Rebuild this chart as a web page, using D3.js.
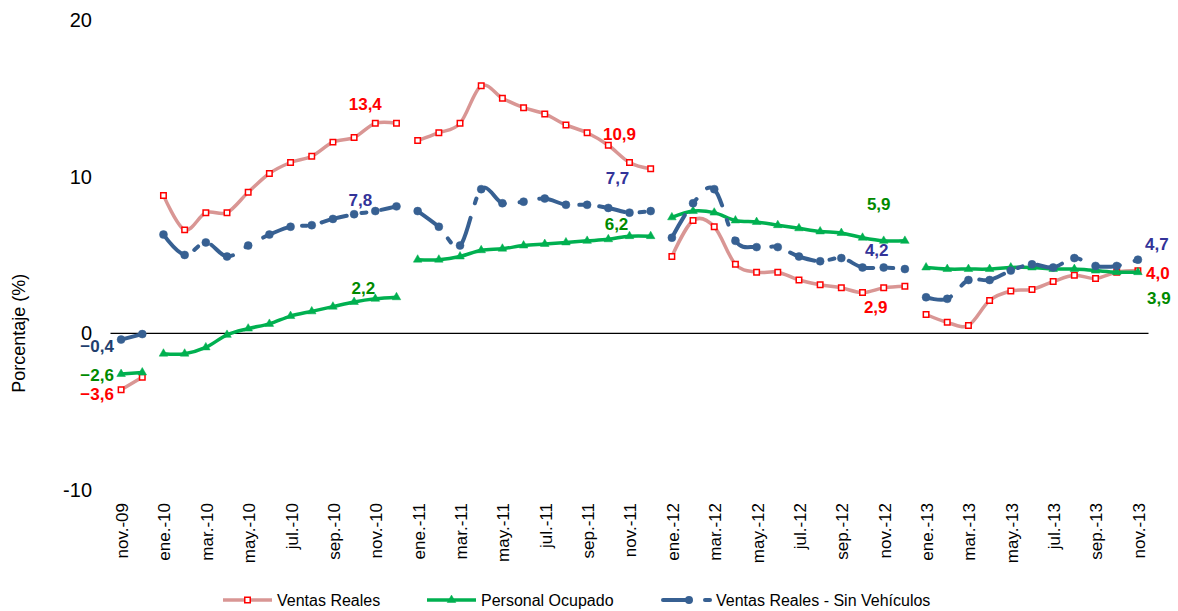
<!DOCTYPE html>
<html>
<head>
<meta charset="utf-8">
<script src="https://cdn.jsdelivr.net/npm/d3@7"></script>
<style>
  body { margin: 0; background: #fff; }
  svg { font-family: Arial, "Liberation Sans", sans-serif; }
</style>
</head>
<body>
<svg id="chart" width="1178" height="611"></svg>
<script>
// months shown on the x axis (one point per month)
const months = [
  "nov.-09","dic.-09",
  "ene.-10","feb.-10","mar.-10","abr.-10","may.-10","jun.-10","jul.-10","ago.-10","sep.-10","oct.-10","nov.-10","dic.-10",
  "ene.-11","feb.-11","mar.-11","abr.-11","may.-11","jun.-11","jul.-11","ago.-11","sep.-11","oct.-11","nov.-11","dic.-11",
  "ene.-12","feb.-12","mar.-12","abr.-12","may.-12","jun.-12","jul.-12","ago.-12","sep.-12","oct.-12","nov.-12","dic.-12",
  "ene.-13","feb.-13","mar.-13","abr.-13","may.-13","jun.-13","jul.-13","ago.-13","sep.-13","oct.-13","nov.-13"
];

const ventasReales = [
  -3.6, -2.8,
  8.8, 6.6, 7.7, 7.7, 9.0, 10.2, 10.9, 11.3, 12.2, 12.5, 13.4, 13.4,
  12.3, 12.8, 13.4, 15.8, 15.0, 14.4, 14.0, 13.3, 12.8, 12.0, 10.9, 10.5,
  4.9, 7.2, 6.8, 4.4, 3.9, 3.9, 3.4, 3.1, 2.9, 2.6, 2.9, 3.0,
  1.2, 0.7, 0.5, 2.1, 2.7, 2.8, 3.3, 3.7, 3.5, 3.9, 4.0
];

const personalOcupado = [
  -2.6, -2.5,
  -1.3, -1.3, -0.9, -0.1, 0.3, 0.6, 1.1, 1.4, 1.7, 2.0, 2.2, 2.3,
  4.7, 4.7, 4.9, 5.3, 5.4, 5.6, 5.7, 5.8, 5.9, 6.0, 6.2, 6.2,
  7.4, 7.8, 7.7, 7.2, 7.1, 6.9, 6.7, 6.5, 6.4, 6.1, 5.9, 5.9,
  4.2, 4.1, 4.1, 4.1, 4.2, 4.2, 4.1, 4.1, 4.0, 3.9, 3.9
];

const ventasSinVehiculos = [
  -0.4, -0.05,
  6.3, 5.0, 5.8, 4.9, 5.6, 6.3, 6.8, 6.9, 7.3, 7.6, 7.8, 8.1,
  7.8, 6.8, 5.6, 9.2, 8.3, 8.4, 8.6, 8.2, 8.2, 8.0, 7.7, 7.8,
  6.1, 8.3, 9.2, 5.9, 5.5, 5.5, 4.9, 4.6, 4.8, 4.2, 4.2, 4.1,
  2.3, 2.2, 3.4, 3.4, 4.0, 4.4, 4.2, 4.8, 4.3, 4.3, 4.7
];

const yTicks = [-10, 0, 10, 20];

const series = [
  { name: "Ventas Reales", values: ventasReales, line: "#d99694", width: 3.5, marker: "square", markerColor: "#ff0000", labelColor: "#ff0000" },
  { name: "Personal Ocupado", values: personalOcupado, line: "#00b050", width: 3.5, marker: "triangle", markerColor: "#00b050", labelColor: "#008a00" },
  { name: "Ventas Reales - Sin Vehículos", values: ventasSinVehiculos, line: "#376092", width: 4, marker: "circle", markerColor: "#376092", labelColor: "#333399", dash: "26,15,5,15" }
];

// which points carry a value label, and where it sits relative to the point
const labels = [
  { s: 0, i: 0, dx: -24, dy: 4, color: "#ff0000" },
  { s: 1, i: 0, dx: -24, dy: 1 },
  { s: 2, i: 0, dx: -24, dy: 6, color: "#1f3f6e" },
  { s: 0, i: 12, dx: -10, dy: -19 },
  { s: 1, i: 12, dx: -12, dy: -11 },
  { s: 2, i: 12, dx: -15, dy: -11 },
  { s: 0, i: 24, dx: -10, dy: -28 },
  { s: 1, i: 24, dx: -13, dy: -12 },
  { s: 2, i: 24, dx: -12, dy: -35 },
  { s: 0, i: 36, dx: -8, dy: 19 },
  { s: 1, i: 36, dx: -5, dy: -37 },
  { s: 2, i: 36, dx: -7, dy: -17 },
  { s: 0, i: 48, dx: 20, dy: 2 },
  { s: 1, i: 48, dx: 21, dy: 26 },
  { s: 2, i: 48, dx: 19, dy: -16 }
];

const svg = d3.select("#chart");

const x = d3.scalePoint()
  .domain(months)
  .range([110.5, 1148.5])
  .padding(0.5);

const y = d3.scaleLinear()
  .domain([-10, 20])
  .range([490, 19.9]);

// y tick labels (no axis line in the original)
svg.append("g")
  .selectAll("text")
  .data(yTicks)
  .join("text")
  .attr("x", 92)
  .attr("y", d => y(d))
  .attr("dy", "0.35em")
  .attr("text-anchor", "end")
  .style("font-size", "20px")
  .text(d => d);

svg.append("text")
  .attr("transform", `translate(25,${y(0)}) rotate(-90)`)
  .attr("text-anchor", "middle")
  .style("font-size", "18px")
  .text("Porcentaje (%)");

// zero line
svg.append("line")
  .attr("x1", 110.5).attr("x2", 1148.5)
  .attr("y1", y(0)).attr("y2", y(0))
  .attr("stroke", "#000").attr("stroke-width", 1.2);

// x tick labels every other month
svg.append("g")
  .selectAll("text")
  .data(months.filter((m, i) => i % 2 === 0))
  .join("text")
  .attr("transform", d => `translate(${x(d) + 1},503) rotate(-90)`)
  .attr("text-anchor", "end")
  .attr("dy", "0.35em")
  .style("font-size", "17px")
  .text(d => d);

// lines split by year, like the original
const yearOf = m => m.slice(-2);
const line = d3.line()
  .x(d => x(d.m))
  .y(d => y(d.v))
  .curve(d3.curveCatmullRom.alpha(0));

const symbolFor = {
  square: d3.symbol().type(d3.symbolSquare).size(30),
  triangle: d3.symbol().type(d3.symbolTriangle).size(32),
  circle: d3.symbol().type(d3.symbolCircle).size(50)
};

series.forEach(s => {
  const pts = s.values.map((v, i) => ({ m: months[i], v }));
  const groups = d3.groups(pts, d => yearOf(d.m)).map(g => g[1]);
  const g = svg.append("g");
  g.selectAll("path.seg")
    .data(groups)
    .join("path")
    .attr("class", "seg")
    .attr("d", line)
    .attr("fill", "none")
    .attr("stroke", s.line)
    .attr("stroke-width", s.width)
    .attr("stroke-linecap", "round")
    .attr("stroke-linejoin", "round")
    .attr("stroke-dasharray", s.dash || null);

  g.selectAll("path.mk")
    .data(pts)
    .join("path")
    .attr("class", "mk")
    .attr("transform", d => `translate(${x(d.m)},${y(d.v)})`)
    .attr("d", symbolFor[s.marker]())
    .attr("fill", s.marker === "square" ? "#fff" : s.markerColor)
    .attr("stroke", s.markerColor)
    .attr("stroke-width", s.marker === "square" ? 1.5 : 0.5);
});

// value labels
const fmt = v => d3.format(".1f")(v).replace(".", ",");
svg.append("g")
  .selectAll("text")
  .data(labels)
  .join("text")
  .attr("x", d => x(months[d.i]) + d.dx)
  .attr("y", d => y(series[d.s].values[d.i]) + d.dy)
  .attr("dy", "0.35em")
  .attr("text-anchor", "middle")
  .style("font-size", "17px")
  .style("font-weight", "bold")
  .attr("fill", d => d.color || series[d.s].labelColor)
  .text(d => fmt(series[d.s].values[d.i]));

// legend
const legendItems = [
  { s: 0, x: 223, w: 49, tx: 277 },
  { s: 1, x: 427, w: 49, tx: 481 },
  { s: 2, x: 661, w: 51, tx: 716 }
];
const lg = svg.append("g");
legendItems.forEach(it => {
  const s = series[it.s];
  const ly = 600;
  if (s.dash) {
    lg.append("line")
      .attr("x1", it.x + 2).attr("x2", it.x + 28).attr("y1", ly).attr("y2", ly)
      .attr("stroke", s.line).attr("stroke-width", s.width).attr("stroke-linecap", "round");
    lg.append("line")
      .attr("x1", it.x + 44).attr("x2", it.x + 49).attr("y1", ly).attr("y2", ly)
      .attr("stroke", s.line).attr("stroke-width", s.width).attr("stroke-linecap", "round");
    lg.append("path")
      .attr("transform", `translate(${it.x + 28},${ly})`)
      .attr("d", symbolFor[s.marker]())
      .attr("fill", s.markerColor);
  } else {
    lg.append("line")
      .attr("x1", it.x).attr("x2", it.x + it.w).attr("y1", ly).attr("y2", ly)
      .attr("stroke", s.line).attr("stroke-width", s.width);
    lg.append("path")
      .attr("transform", `translate(${it.x + it.w / 2},${ly})`)
      .attr("d", symbolFor[s.marker]())
      .attr("fill", s.marker === "square" ? "#fff" : s.markerColor)
      .attr("stroke", s.markerColor)
      .attr("stroke-width", s.marker === "square" ? 1.5 : 0.5);
  }
  lg.append("text")
    .attr("x", it.tx).attr("y", ly)
    .attr("dy", "0.35em")
    .style("font-size", "16px")
    .text(s.name);
});
</script>
</body>
</html>
